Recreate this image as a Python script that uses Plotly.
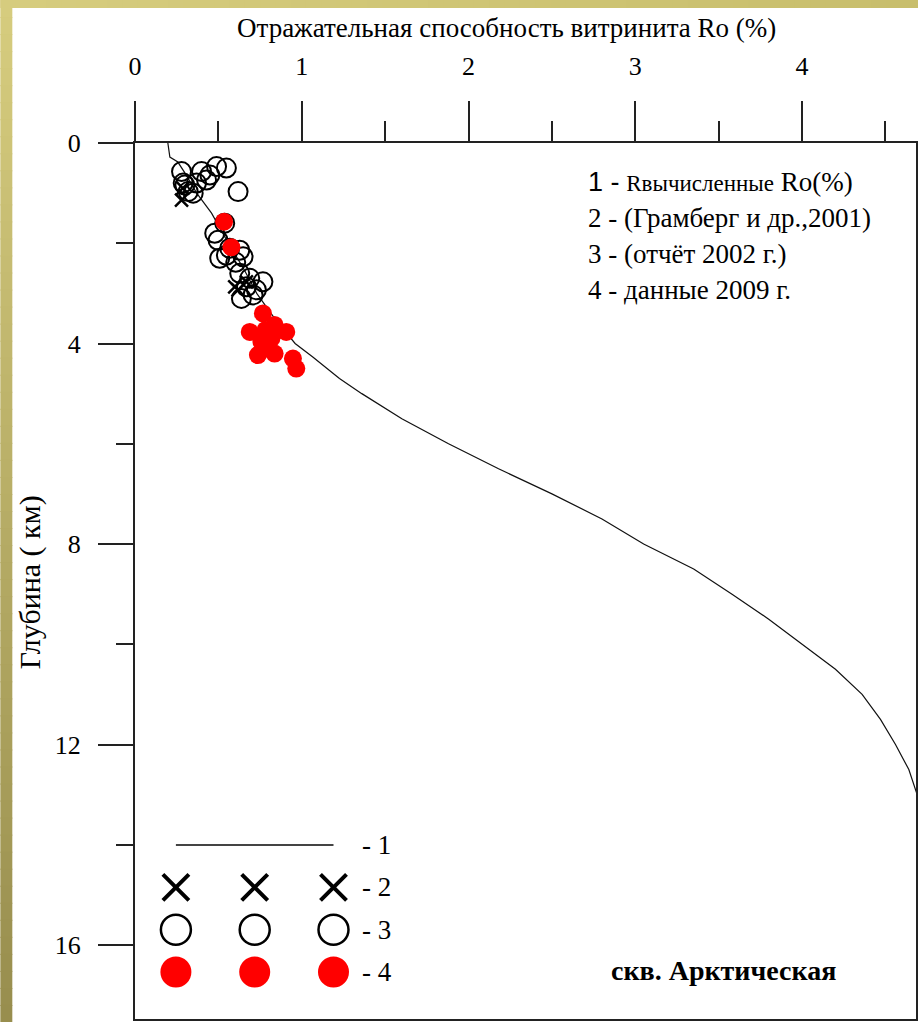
import plotly.graph_objects as go

# ---------------- data ----------------
curve_depth = [0.00, 0.28, 0.38, 0.60, 1.00, 1.40, 2.00, 2.50, 3.00, 3.50, 4.00, 4.27, 4.70,
               5.00, 5.50, 6.00, 6.50, 7.00, 7.50, 8.00, 8.50, 9.00, 9.50, 10.00, 10.50,
               11.00, 11.50, 12.00, 12.50, 13.00, 13.20]
curve_ro = [0.197, 0.209, 0.257, 0.300, 0.370, 0.459, 0.560, 0.650, 0.730, 0.837, 0.960, 1.066, 1.226,
            1.36, 1.60, 1.88, 2.18, 2.50, 2.80, 3.05, 3.35, 3.58, 3.80, 4.00, 4.20,
            4.36, 4.47, 4.56, 4.64, 4.69, 4.70]

circle_ro = [0.279, 0.399, 0.489, 0.548, 0.429, 0.449, 0.289, 0.299, 0.319, 0.349, 0.369, 0.618,
             0.478, 0.538, 0.498, 0.568, 0.628, 0.548, 0.648, 0.628, 0.688, 0.767, 0.668, 0.728,
             0.638, 0.708, 0.604, 0.508]
circle_depth = [0.57, 0.57, 0.47, 0.50, 0.74, 0.64, 0.80, 0.84, 0.97, 1.00, 0.80, 0.97,
                1.80, 1.60, 1.94, 2.10, 2.14, 2.24, 2.27, 2.60, 2.70, 2.77, 2.87, 2.93,
                3.10, 3.03, 2.38, 2.30]

cross_ro = [0.279, 0.287, 0.618, 0.598, 0.668]
cross_depth = [1.14, 0.90, 2.93, 2.87, 2.77]

red_ro = [0.534, 0.578, 0.767, 0.837, 0.688, 0.907, 0.818, 0.758, 0.797, 0.737, 0.837, 0.947,
          0.967, 0.783]
red_depth = [1.57, 2.08, 3.40, 3.63, 3.77, 3.77, 3.90, 3.97, 4.10, 4.23, 4.20, 4.30,
             4.50, 3.73]

x_ticks = [0, 1, 2, 3, 4]
y_ticks = [0, 4, 8, 12, 16]
x_title = "Отражательная способность витринита Ro (%)"
y_title = "Глубина ( км)"
notes = ['<span style="font-family:Liberation Sans">1 -</span> '
         '<span style="font-size:23px">Rвычисленные</span> Ro(%)',
         "2 - (Грамберг и др.,2001)",
         "3 - (отчёт 2002 г.)",
         "4 - данные 2009 г."]
well_name = "<b>скв. Арктическая</b>"
legend_cols = [1, 2, 3]
legend_rows = [1, 2, 3, 4]
legend_labels = ["- 1", "- 2", "- 3", "- 4"]

# ---------------- layout geometry ----------------
W, H = 919, 1022
ML, MT, MR, MB = 135, 143, 1, 3
PW, PH = W - ML - MR, H - MT - MB
SERIF = "Liberation Serif, Times New Roman, serif"


def px_x(p):
    return (p - ML) / PW


def px_y(p):
    return (H - MB - p) / PH


fig = go.Figure()

# main curve
fig.add_trace(go.Scatter(x=curve_ro, y=curve_depth, mode="lines",
                         line=dict(color="#111111", width=1.2), showlegend=False,
                         xaxis="x", yaxis="y"))
fig.add_trace(go.Scatter(x=circle_ro, y=circle_depth, mode="markers",
                         marker=dict(symbol="circle-open", size=19, color="black",
                                     line=dict(width=2, color="black")),
                         showlegend=False, xaxis="x", yaxis="y"))
fig.add_trace(go.Scatter(x=cross_ro, y=cross_depth, mode="markers",
                         marker=dict(symbol="x-thin-open", size=13, color="black",
                                     line=dict(width=2.5, color="black")),
                         showlegend=False, xaxis="x", yaxis="y"))
fig.add_trace(go.Scatter(x=red_ro, y=red_depth, mode="markers",
                         marker=dict(symbol="circle", size=18, color="#ff0000",
                                     line=dict(width=0)),
                         showlegend=False, xaxis="x", yaxis="y"))

# ---------------- custom key (bottom-left) ----------------
fig.add_trace(go.Scatter(x=[legend_cols[0], legend_cols[-1]], y=[legend_rows[0]] * 2, mode="lines",
                         line=dict(color="#444444", width=2), showlegend=False,
                         xaxis="x2", yaxis="y2"))
fig.add_trace(go.Scatter(x=legend_cols, y=[legend_rows[1]] * 3, mode="markers",
                         marker=dict(symbol="x-thin-open", size=26, color="black",
                                     line=dict(width=4, color="black")),
                         showlegend=False, xaxis="x2", yaxis="y2"))
fig.add_trace(go.Scatter(x=legend_cols, y=[legend_rows[2]] * 3, mode="markers",
                         marker=dict(symbol="circle-open", size=30, color="black",
                                     line=dict(width=2.5, color="black")),
                         showlegend=False, xaxis="x2", yaxis="y2"))
fig.add_trace(go.Scatter(x=legend_cols, y=[legend_rows[3]] * 3, mode="markers",
                         marker=dict(symbol="circle", size=31, color="#ff0000",
                                     line=dict(width=0)),
                         showlegend=False, xaxis="x2", yaxis="y2"))

# key axes placement (pixel geometry)
key_col_px = (176, 334)
key_row_px = (845, 972)
col_step = (key_col_px[1] - key_col_px[0]) / 2
row_step = (key_row_px[1] - key_row_px[0]) / 3
kx0, kx1 = key_col_px[0] - col_step / 2, key_col_px[1] + col_step / 2
ky0, ky1 = key_row_px[0] - row_step / 2, key_row_px[1] + row_step / 2

annotations = []
for lab, r in zip(legend_labels, legend_rows):
    py = key_row_px[0] + (r - 1) * row_step
    annotations.append(dict(text=lab, x=px_x(361), y=px_y(py), xref="paper", yref="paper",
                            xanchor="left", yanchor="middle", showarrow=False,
                            font=dict(family=SERIF, size=27, color="black")))

note_y = [182, 218, 254, 290]
for t, yy in zip(notes, note_y):
    annotations.append(dict(text=t, x=px_x(587), y=px_y(yy), xref="paper", yref="paper",
                            xanchor="left", yanchor="middle", showarrow=False,
                            font=dict(family=SERIF, size=27, color="black")))

annotations.append(dict(text=well_name, x=px_x(725), y=px_y(970), xref="paper", yref="paper",
                        xanchor="center", yanchor="middle", showarrow=False,
                        font=dict(family=SERIF, size=28, color="black")))
annotations.append(dict(text=x_title, x=px_x(507), y=px_y(28), xref="paper", yref="paper",
                        xanchor="center", yanchor="middle", showarrow=False,
                        font=dict(family=SERIF, size=27, color="black")))
annotations.append(dict(text=y_title, x=px_x(30), y=px_y(582), xref="paper", yref="paper",
                        xanchor="center", yanchor="middle", showarrow=False, textangle=-90,
                        font=dict(family=SERIF, size=30, color="black")))

# ---------------- decorative border gradient ----------------
shapes = []
N = 60
c_top, c_bot, c_right = (214, 204, 126), (152, 142, 78), (200, 190, 108)
left_w, top_h = 12, 8
for i in range(N):
    t = i / (N - 1)
    c = tuple(int(round(a + (b - a) * t)) for a, b in zip(c_top, c_bot))
    y0p, y1p = H * i / N, H * (i + 1) / N + 1
    shapes.append(dict(type="rect", xref="paper", yref="paper",
                       x0=px_x(0), x1=px_x(left_w), y0=px_y(y1p), y1=px_y(y0p),
                       fillcolor="rgb(%d,%d,%d)" % c, line=dict(width=0), layer="below"))
for i in range(N):
    t = i / (N - 1)
    c = tuple(int(round(a + (b - a) * t)) for a, b in zip(c_top, c_right))
    x0p, x1p = W * i / N, W * (i + 1) / N + 1
    shapes.append(dict(type="rect", xref="paper", yref="paper",
                       x0=px_x(x0p), x1=px_x(x1p), y0=px_y(top_h), y1=px_y(0),
                       fillcolor="rgb(%d,%d,%d)" % c, line=dict(width=0), layer="below"))

axis_col = "#222222"
fig.update_layout(
    width=W, height=H,
    margin=dict(l=ML, r=MR, t=MT, b=MB, pad=0),
    paper_bgcolor="white", plot_bgcolor="white",
    showlegend=False,
    xaxis=dict(side="top", range=[0, 4.683], tickvals=x_ticks, ticks="outside", ticklen=40,
               tickwidth=1.5, tickcolor=axis_col, showgrid=False, zeroline=False,
               showline=True, linecolor=axis_col, linewidth=2, mirror=True,
               ticklabelstandoff=16,
               tickfont=dict(family=SERIF, size=26, color="black"),
               minor=dict(dtick=0.5, tick0=0, ticks="outside", ticklen=20, tickwidth=1.5,
                          tickcolor=axis_col, showgrid=False)),
    yaxis=dict(range=[17.476, 0], tickvals=y_ticks, ticks="outside", ticklen=35,
               tickwidth=1.5, tickcolor=axis_col, showgrid=False, zeroline=False,
               showline=True, linecolor=axis_col, linewidth=2, mirror=True,
               ticklabelstandoff=12,
               tickfont=dict(family=SERIF, size=26, color="black"),
               minor=dict(dtick=2, tick0=0, ticks="outside", ticklen=17, tickwidth=1.5,
                          tickcolor=axis_col, showgrid=False)),
    xaxis2=dict(domain=[px_x(kx0), px_x(kx1)], range=[0.5, 3.5], anchor="y2",
                visible=False, fixedrange=True),
    yaxis2=dict(domain=[px_y(ky1), px_y(ky0)], range=[4.5, 0.5], anchor="x2",
                visible=False, fixedrange=True),
    annotations=annotations,
    shapes=shapes,
)

fig.write_html(
    "out.html",
    config={"displayModeBar": False},
    post_script="document.body.style.margin='0';document.body.style.padding='0';"
                "document.body.style.overflow='hidden';",
)
